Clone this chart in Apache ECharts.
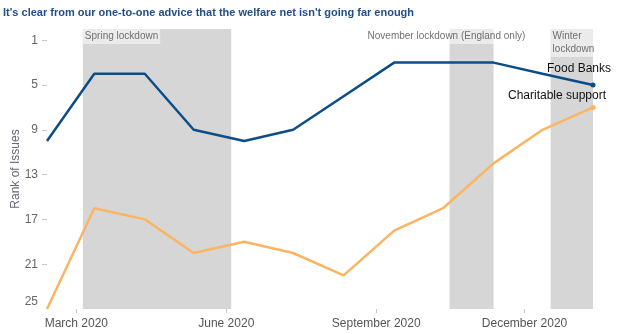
<!DOCTYPE html>
<html>
<head>
<meta charset="utf-8">
<script src="https://cdn.jsdelivr.net/npm/echarts@6/dist/echarts.min.js"></script>
<style>
  html, body { margin: 0; padding: 0; background: #fff; }
  #chart { width: 622px; height: 334px; }
</style>
</head>
<body>
<div id="chart"></div>
<script>
// Monthly survey points (rank 1 = most common issue)
const months = ['2020-02-12', '2020-03-12', '2020-04-12', '2020-05-12', '2020-06-12', '2020-07-12',
                '2020-08-12', '2020-09-12', '2020-10-12', '2020-11-12', '2020-12-12', '2021-01-12'];
const foodBanks = [10, 4, 4, 9, 10, 9, 6, 3, 3, 3, 4, 5];
const charitableSupport = [25, 16, 17, 20, 19, 20, 22, 18, 16, 12, 9, 7];

// Lockdown periods: [label, start, end]
const lockdowns = [
  ['Spring lockdown', '2020-03-05', '2020-06-04'],
  ['November lockdown (England only)', '2020-10-16', '2020-11-12'],
  ['Winter\nlockdown', '2020-12-17', '2021-01-12']
];

const xTickDates = ['2020-03-01', '2020-06-01', '2020-09-01', '2020-12-01'];
const yTicks = [1, 5, 9, 13, 17, 21, 25];
const monthNames = ['January', 'February', 'March', 'April', 'May', 'June', 'July',
                    'August', 'September', 'October', 'November', 'December'];

function toTime(s) {
  const p = s.split('-').map(Number);
  return new Date(p[0], p[1] - 1, p[2]).getTime();
}

const times = months.map(toTime);
const lastIdx = months.length - 1;
const font = 'Liberation Sans, Arial, sans-serif';

function seriesData(values) {
  return values.map((v, i) => [times[i], v]);
}

const lockdownLabelOffsets = [[0, 0], [-84, 0], [0, 0]];

const chart = echarts.init(document.getElementById('chart'), null, { renderer: 'canvas' });

chart.setOption({
  animation: false,
  backgroundColor: '#ffffff',
  title: {
    text: "It's clear from our one-to-one advice that the welfare net isn't going far enough",
    left: 3,
    top: 7,
    padding: 0,
    textStyle: { fontFamily: font, fontSize: 11, fontWeight: 'bold', color: '#1f4e8a' }
  },
  grid: { left: 47, right: 29, top: 29, bottom: 25, outerBoundsMode: 'none', containLabel: false },
  xAxis: {
    type: 'value',
    position: 'bottom',
    min: times[0],
    max: times[lastIdx],
    axisLine: { show: false, onZero: false },
    splitLine: { show: false },
    axisTick: {
      show: true,
      length: 4,
      lineStyle: { color: '#c8c8c8' },
      customValues: xTickDates.map(toTime)
    },
    axisLabel: {
      customValues: xTickDates.map(toTime),
      fontFamily: font,
      fontSize: 12,
      color: '#555555',
      margin: 9,
      formatter: function (val) {
        const d = new Date(val);
        return monthNames[d.getMonth()] + ' ' + d.getFullYear();
      }
    }
  },
  yAxis: {
    type: 'value',
    inverse: true,
    min: 0,
    max: 25,
    name: 'Rank of Issues',
    nameLocation: 'middle',
    nameRotate: 90,
    nameGap: 25,
    nameMoveOverlap: false,
    nameTextStyle: { fontFamily: font, fontSize: 12, color: '#666677' },
    axisLine: { show: false },
    splitLine: { show: false },
    axisTick: {
      show: true,
      length: 5,
      lineStyle: { color: '#c8c8c8' },
      customValues: yTicks.slice(0, -1)
    },
    axisLabel: {
      customValues: yTicks,
      fontFamily: font,
      fontSize: 12,
      color: '#666666',
      margin: 9,
      formatter: function (v) {
        return v === yTicks[yTicks.length - 1] ? '{last|' + v + '}' : String(v);
      },
      rich: {
        last: { fontFamily: font, fontSize: 12, color: '#666666', padding: [0, 0, 14, 0] }
      }
    }
  },
  series: [
    {
      name: 'Lockdowns',
      type: 'line',
      data: [],
      z: 1,
      markArea: {
        silent: true,
        itemStyle: { color: '#d6d6d6' },
        data: lockdowns.map((l, i) => [
          {
            name: l[0],
            xAxis: toTime(l[1]),
            label: {
              show: true,
              position: 'insideTopLeft',
              distance: 0,
              offset: lockdownLabelOffsets[i],
              fontFamily: font,
              fontSize: 10,
              lineHeight: 13,
              color: '#707070',
              backgroundColor: 'rgba(255,255,255,0.5)',
              padding: [1, 2, 1, 2]
            }
          },
          { xAxis: toTime(l[2]) }
        ])
      }
    },
    {
      name: 'Food Banks',
      type: 'line',
      z: 3,
      data: seriesData(foodBanks),
      showSymbol: true,
      symbol: 'circle',
      symbolSize: (v, p) => (p.dataIndex === lastIdx ? 5 : 0),
      lineStyle: { color: '#0d4d87', width: 2.5 },
      itemStyle: { color: '#0d4d87' },
      label: {
        show: true,
        position: 'inside',
        offset: [-14, -16],
        fontFamily: font,
        fontSize: 12,
        color: '#111111',
        formatter: (p) => (p.dataIndex === lastIdx ? 'Food Banks' : '')
      }
    },
    {
      name: 'Charitable support',
      type: 'line',
      z: 3,
      data: seriesData(charitableSupport),
      showSymbol: true,
      symbol: 'circle',
      symbolSize: (v, p) => (p.dataIndex === lastIdx ? 5 : 0),
      lineStyle: { color: '#fbb562', width: 2.5 },
      itemStyle: { color: '#fbb562' },
      label: {
        show: true,
        position: 'inside',
        offset: [-36, -12],
        fontFamily: font,
        fontSize: 12,
        color: '#111111',
        formatter: (p) => (p.dataIndex === lastIdx ? 'Charitable support' : '')
      }
    }
  ]
});
</script>
</body>
</html>
